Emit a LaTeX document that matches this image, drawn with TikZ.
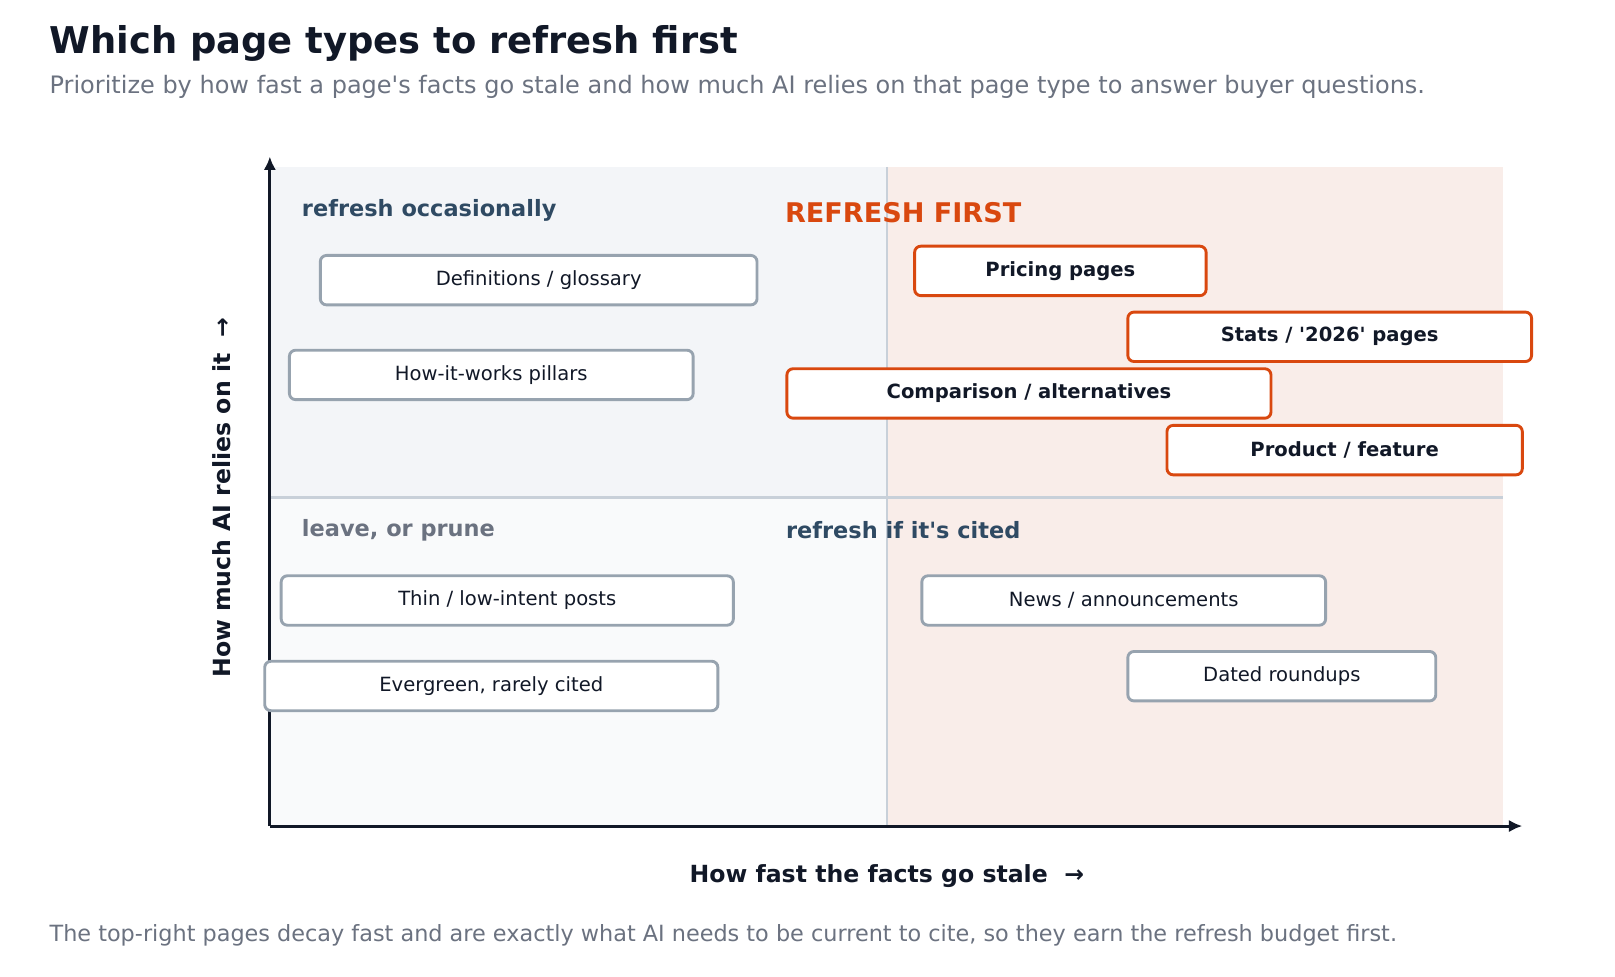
\documentclass[tikz,border=0pt]{standalone}
\usepackage{fontspec}
\setmainfont{DejaVu Sans}[Ligatures=TeXOff]
\usetikzlibrary{arrows.meta}
\definecolor{ink}{HTML}{111827}
\definecolor{sub}{HTML}{6B7280}
\definecolor{navy}{HTML}{2F4A63}
\definecolor{org}{HTML}{D9480F}
\definecolor{gbord}{HTML}{97A3AF}
\definecolor{grid}{HTML}{C8D0D9}
\definecolor{qa}{HTML}{F3F5F8}
\definecolor{qb}{HTML}{F9FAFB}
\definecolor{qc}{HTML}{F9EDE9}
\begin{document}
\begin{tikzpicture}[x=1pt,y=-1pt,
 box/.style={draw=gbord,line width=2.8pt,rounded corners=6pt,fill=white,font=\fontsize{19}{22}\selectfont,text=ink},
 hot/.style={box,draw=org,font=\fontsize{19}{22}\selectfont\bfseries},
 ql/.style={anchor=west,font=\fontsize{21.8}{25}\selectfont\bfseries}]
\useasboundingbox (0,0) rectangle (1568,948);
\fill[fill=white] (0,0) rectangle (1568,948);
\fill[qa] (262,162) rectangle (861,483);
\fill[qb] (262,483) rectangle (861,802);
\fill[qc] (861,162) rectangle (1459,802);
\draw[grid,line width=2pt] (861,162) -- (861,802) (262,483) -- (1459,483);
\coordinate (o) at (262,802); \coordinate (xe) at (1478,802); \coordinate (ye) at (262,152);
\draw[ink,line width=3pt,-{Latex[length=13pt,width=12pt]}] (o) -- (xe);
\draw[ink,line width=3pt,-{Latex[length=13pt,width=12pt]}] (o) -- (ye);
\node[anchor=west,inner sep=0pt,font=\fontsize{35.8}{40}\selectfont\bfseries,text=ink] (t) at (48,42) {Which page types to refresh first};
\node[anchor=west,inner sep=0pt,font=\fontsize{23.3}{27}\selectfont,text=sub] (s) at (48,84) {Prioritize by how fast a page's facts go stale and how much AI relies on that page type to answer buyer questions.};
\node[anchor=west,inner sep=0pt,font=\fontsize{21.7}{26}\selectfont,text=sub] (f) at (48,908) {The top-right pages decay fast and are exactly what AI needs to be current to cite, so they earn the refresh budget first.};
\node[font=\fontsize{22.9}{27}\selectfont\bfseries,text=ink] (xl) at (861,851) {How fast the facts go stale\ \ →};
\node[font=\fontsize{22.9}{27}\selectfont\bfseries,text=ink,rotate=90] (yl) at (215,483) {How much AI relies on it\ \ →};
\node[ql,inner sep=0pt,text=navy] (q1) at (293,204) {refresh occasionally};
\node[ql,inner sep=0pt,text=org,font=\fontsize{26.3}{30}\selectfont\bfseries] (q2) at (762,206) {REFRESH FIRST};
\node[ql,inner sep=0pt,text=sub] (q3) at (293,515) {leave, or prune};
\node[ql,inner sep=0pt,text=navy] (q4) at (763,515) {refresh if it's cited};
\node[box,minimum width=424pt,minimum height=48pt] (b1) at (523,272) {Definitions / glossary};
\node[box,minimum width=392pt,minimum height=48pt] (b2) at (477,364) {How-it-works pillars};
\node[hot,minimum width=283pt,minimum height=48pt] (b3) at (1029.5,263) {Pricing pages};
\node[hot,minimum width=392pt,minimum height=48pt] (b4) at (1291,327) {Stats / '2026' pages};
\node[hot,minimum width=470pt,minimum height=48pt] (b5) at (999,382) {Comparison / alternatives};
\node[hot,minimum width=345pt,minimum height=48pt] (b6) at (1305.5,437) {Product / feature};
\node[box,minimum width=439pt,minimum height=48pt] (b7) at (492.5,583) {Thin / low-intent posts};
\node[box,minimum width=440pt,minimum height=48pt] (b8) at (477,666) {Evergreen, rarely cited};
\node[box,minimum width=392pt,minimum height=48pt] (b9) at (1091,583) {News / announcements};
\node[box,minimum width=299pt,minimum height=48pt] (b10) at (1244.5,656.5) {Dated roundups};
\end{tikzpicture}
\end{document}
